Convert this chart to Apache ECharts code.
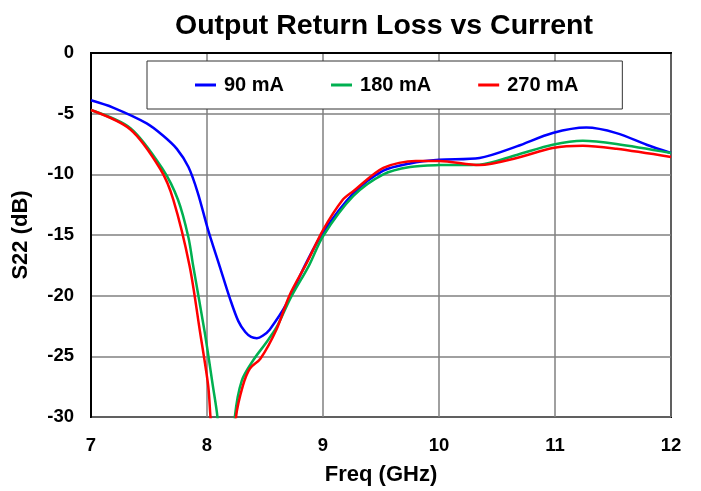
<!DOCTYPE html>
<html>
<head>
<meta charset="utf-8">
<script src="https://cdn.jsdelivr.net/npm/echarts@6/dist/echarts.min.js"></script>
<style>
html,body{margin:0;padding:0;background:#fff;}
#chart{width:701px;height:491px;}
</style>
</head>
<body>
<div id="chart"></div>
<script>
// ---- data ----
var seriesNames = ['90 mA', '180 mA', '270 mA'];

var freq90 = [7.0, 7.19, 7.48, 7.62, 7.74, 7.84, 7.92, 8.01, 8.11, 8.2, 8.27, 8.33, 8.38, 8.43, 8.48, 8.54, 8.69, 8.85, 9.0, 9.26, 9.52, 9.75, 10.0, 10.35, 10.67, 10.98, 11.27, 11.53, 11.79, 12.0];
var s22_90 = [-3.9, -4.5, -5.8, -6.8, -7.9, -9.4, -11.5, -14.6, -17.6, -20.3, -22.1, -23.0, -23.4, -23.5, -23.3, -22.8, -20.6, -17.4, -14.8, -11.6, -9.7, -9.1, -8.8, -8.65, -7.7, -6.6, -6.15, -6.6, -7.56, -8.24];

var freq180 = [7.0, 7.34, 7.62, 7.75, 7.84, 7.88, 7.98, 8.05, 8.09, 8.14, 8.2, 8.24, 8.3, 8.4, 8.5, 8.6, 8.72, 8.88, 9.0, 9.26, 9.52, 9.75, 10.0, 10.35, 10.67, 10.98, 11.24, 11.53, 12.0];
var s22_180 = [-4.7, -6.2, -9.6, -12.1, -15.2, -17.5, -23.0, -27.4, -30.0, -36.0, -36.0, -30.0, -27.0, -25.3, -24.0, -22.6, -20.2, -17.5, -15.1, -11.8, -10.0, -9.4, -9.24, -9.2, -8.4, -7.56, -7.23, -7.5, -8.24];

var freq270 = [7.0, 7.34, 7.6, 7.71, 7.85, 7.94, 8.01, 8.03, 8.1, 8.18, 8.25, 8.31, 8.37, 8.46, 8.6, 8.71, 8.86, 9.0, 9.17, 9.26, 9.52, 9.8, 10.0, 10.35, 10.67, 10.98, 11.24, 11.53, 12.0];
var s22_270 = [-4.7, -6.3, -9.6, -12.1, -17.55, -23.0, -27.4, -30.0, -38.0, -38.0, -30.0, -27.4, -26.0, -25.2, -22.76, -20.0, -17.3, -14.6, -12.1, -11.4, -9.47, -8.9, -8.9, -9.24, -8.66, -7.83, -7.64, -7.9, -8.57];

var xTicks = [7, 8, 9, 10, 11, 12];
var yTicks = [0, -5, -10, -15, -20, -25, -30];
var colors = ['#0000ff', '#00b050', '#ff0000'];

function pairs(xs, ys) { return xs.map(function (x, i) { return [x, ys[i]]; }); }

var chart = echarts.init(document.getElementById('chart'), null, { renderer: 'canvas' });
var FONT = '"Liberation Sans", Arial, Helvetica, sans-serif';

var dataSets = [pairs(freq90, s22_90), pairs(freq180, s22_180), pairs(freq270, s22_270)];

chart.setOption({
  animation: false,
  backgroundColor: '#ffffff',
  title: {
    text: 'Output Return Loss vs Current',
    left: 379, textAlign: 'center', top: 7,
    textStyle: { fontFamily: FONT, fontWeight: 'bold', fontSize: 28.5, color: '#000' }
  },
  legend: {
    data: seriesNames,
    left: 147, top: 61,
    padding: [14, 44, 14, 48],
    itemGap: 47,
    itemWidth: 21, itemHeight: 3,
    icon: 'rect',
    backgroundColor: '#ffffff',
    borderColor: '#333333', borderWidth: 1,
    textStyle: { fontFamily: FONT, fontWeight: 'bold', fontSize: 20, color: '#000', padding: [0, 0, 0, 3] }
  },
  grid: {
    left: 91, right: 30, top: 53, bottom: 73,
    show: true, borderColor: '#000', borderWidth: 2, backgroundColor: 'transparent'
  },
  xAxis: {
    type: 'value', min: xTicks[0], max: xTicks[xTicks.length - 1], interval: 1,
    name: 'Freq (GHz)', nameLocation: 'middle', nameGap: 47,
    nameTextStyle: { fontFamily: FONT, fontWeight: 'bold', fontSize: 22, color: '#000' },
    axisLine: { show: true, lineStyle: { color: '#000', width: 2 } },
    axisTick: { show: false },
    axisLabel: { fontFamily: FONT, fontWeight: 'bold', fontSize: 18.5, color: '#000', margin: 19 },
    splitLine: { show: true, lineStyle: { color: '#808080', width: 1.5 } }
  },
  yAxis: {
    type: 'value', min: yTicks[yTicks.length - 1], max: yTicks[0], interval: 5,
    name: 'S22 (dB)', nameLocation: 'middle', nameGap: 59,
    nameTextStyle: { fontFamily: FONT, fontWeight: 'bold', fontSize: 22, color: '#000' },
    axisLine: { show: true, lineStyle: { color: '#000', width: 2 } },
    axisTick: { show: false },
    axisLabel: { fontFamily: FONT, fontWeight: 'bold', fontSize: 18.5, color: '#000', margin: 17 },
    splitLine: { show: true, lineStyle: { color: '#808080', width: 1.5 } }
  },
  series: seriesNames.map(function (n, i) {
    return {
      name: n, type: 'line', data: dataSets[i],
      smooth: 0.3, showSymbol: false, symbol: 'none',
      clip: true,
      lineStyle: { color: colors[i], width: 2.5 },
      itemStyle: { color: colors[i] },
      z: 3 + i
    };
  })
});
</script>
</body>
</html>
